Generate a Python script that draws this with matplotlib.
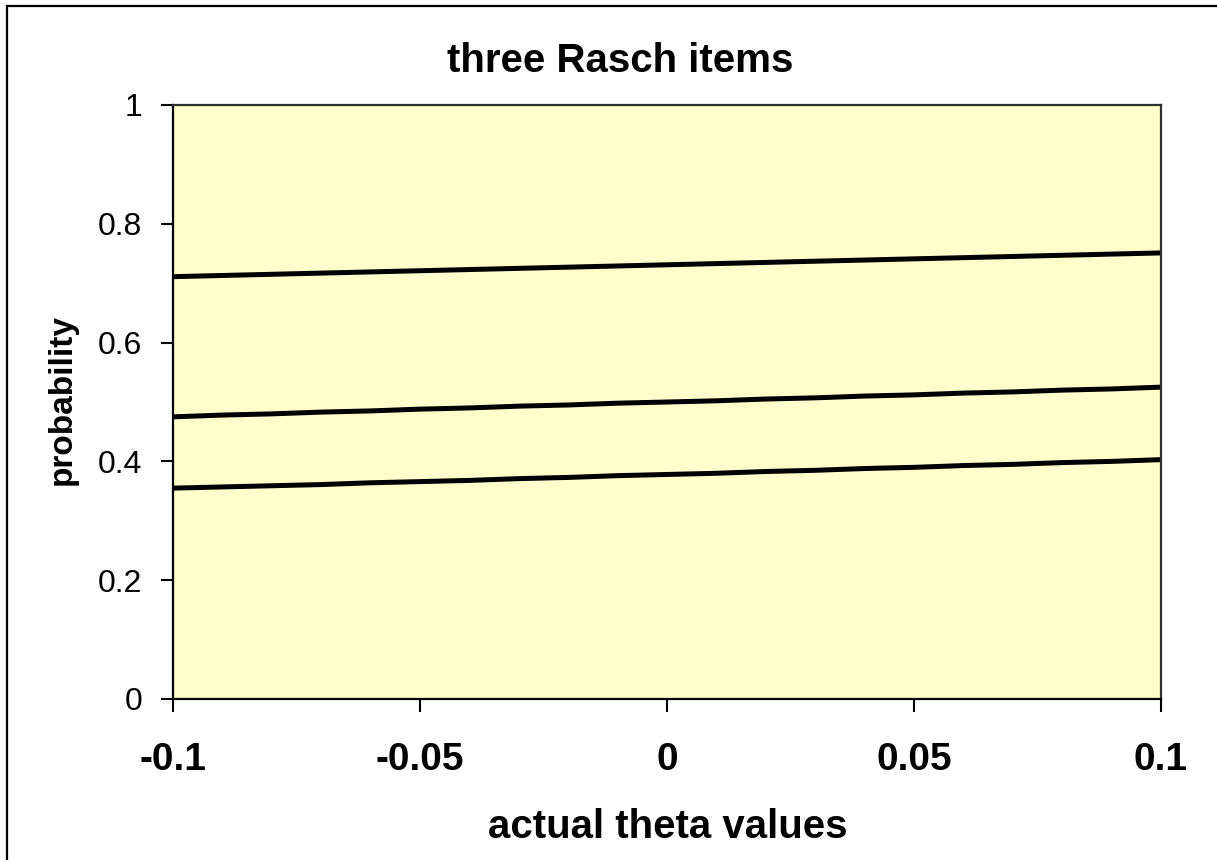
import matplotlib
matplotlib.use("Agg")
import matplotlib.pyplot as plt
from matplotlib.patches import Rectangle

plt.rcParams['font.family'] = ['Liberation Sans', 'DejaVu Sans']

# ability values on the x axis
theta = [-0.10, -0.09, -0.08, -0.07, -0.06, -0.05, -0.04, -0.03, -0.02, -0.01,
         0.00, 0.01, 0.02, 0.03, 0.04, 0.05, 0.06, 0.07, 0.08, 0.09, 0.10]

# probability of a correct response for each item
item_easy = [0.711, 0.713, 0.715, 0.717, 0.719, 0.721, 0.723, 0.725, 0.727, 0.729,
             0.731, 0.733, 0.735, 0.737, 0.739, 0.741, 0.743, 0.745, 0.747, 0.749, 0.751]
item_mid = [0.475, 0.478, 0.480, 0.483, 0.485, 0.488, 0.490, 0.493, 0.495, 0.498,
            0.500, 0.502, 0.505, 0.507, 0.510, 0.512, 0.515, 0.517, 0.520, 0.522, 0.525]
item_hard = [0.355, 0.357, 0.359, 0.361, 0.364, 0.366, 0.368, 0.371, 0.373, 0.376,
             0.378, 0.380, 0.383, 0.385, 0.388, 0.390, 0.393, 0.395, 0.398, 0.400, 0.403]

x_ticks = [-0.1, -0.05, 0, 0.05, 0.1]
x_tick_labels = ['-0.1', '-0.05', '0', '0.05', '0.1']
y_ticks = [0, 0.2, 0.4, 0.6, 0.8, 1]
y_tick_labels = ['0', '0.2', '0.4', '0.6', '0.8', '1']

W, H = 1217, 860
fig = plt.figure(figsize=(W / 100, H / 100), dpi=100)
fig.patch.set_facecolor('white')

# chart-area frame
fig.patches.append(Rectangle((7 / W, -0.1), 1.2, 1 - 6 / H + 0.1,
                             transform=fig.transFigure, fill=False,
                             edgecolor='black', linewidth=1.6))

ax = fig.add_axes([173 / W, 1 - 699 / H, (1161 - 173) / W, (699 - 105) / H])
ax.set_facecolor('#FFFFCC')

for series in (item_easy, item_mid, item_hard):
    ax.plot(theta, series, color='black', linewidth=3.6, solid_capstyle='butt')

ax.set_xlim(-0.1, 0.1)
ax.set_ylim(0, 1)

ax.set_xticks(x_ticks)
ax.set_xticklabels(x_tick_labels, fontsize=28, fontweight='bold')
ax.set_yticks(y_ticks)
ax.set_yticklabels(y_tick_labels, fontsize=23)
ax.tick_params(axis='x', direction='out', length=9, width=1.5, pad=22)
ax.tick_params(axis='y', direction='out', length=9, width=1.5, pad=13)

for side in ('left', 'bottom'):
    ax.spines[side].set_linewidth(1.6)
    ax.spines[side].set_color('black')
for side in ('top', 'right'):
    ax.spines[side].set_linewidth(1.6)
    ax.spines[side].set_color('#303030')

fig.text(620 / W, 1 - 72 / H, 'three Rasch items', ha='center', va='baseline',
         fontsize=29, fontweight='bold')
fig.text(668 / W, 1 - 838 / H, 'actual theta values', ha='center', va='baseline',
         fontsize=29, fontweight='bold')
fig.text(62 / W, 1 - 400 / H, 'probability', ha='center', va='center',
         rotation=90, fontsize=24, fontweight='bold')

fig.savefig('out.png', dpi=100)
